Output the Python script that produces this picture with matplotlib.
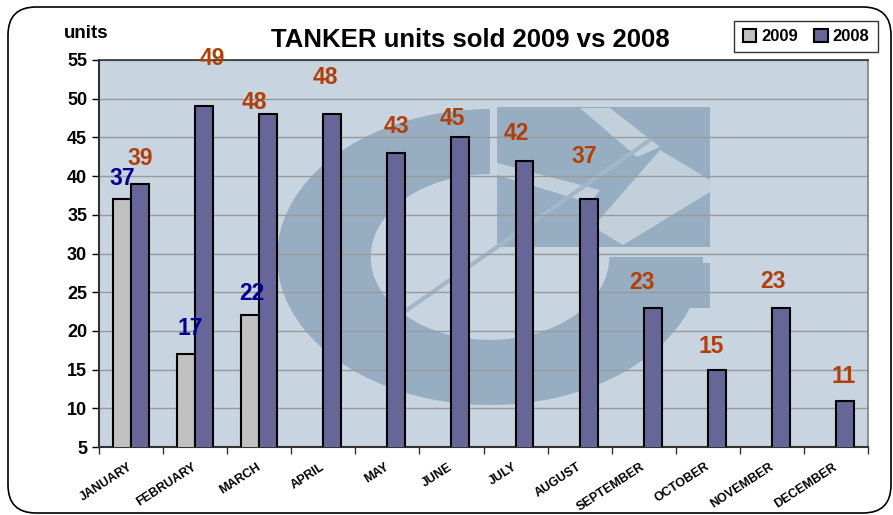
import matplotlib
matplotlib.use("Agg")
import matplotlib.pyplot as plt
import matplotlib.patches as patches
from matplotlib.transforms import Affine2D
import numpy as np

plt.rcParams['font.family'] = ['Liberation Sans', 'DejaVu Sans']

months = ['JANUARY', 'FEBRUARY', 'MARCH', 'APRIL', 'MAY', 'JUNE', 'JULY',
          'AUGUST', 'SEPTEMBER', 'OCTOBER', 'NOVEMBER', 'DECEMBER']
units_2009 = [37, 17, 22]
units_2008 = [39, 49, 48, 48, 43, 45, 42, 37, 23, 15, 23, 11]
# manual label nudges (pixels) as placed in the original chart
nudge_2009 = [(0, 21), (4, 26), (2, 22)]
nudge_2008 = [(0, 25), (8, 48), (-14, 12), (-7, 37), (0, 26), (-8, 19),
              (-8, 27), (-4, 43), (-11, 25), (-6, 23), (-8, 26), (-1, 24)]

W, H = 893, 515
fig = plt.figure(figsize=(W / 100, H / 100), dpi=100)
fig.patch.set_facecolor('white')

# rounded outer frame
frame = patches.FancyBboxPatch((0.08, 0.02), 8.83, 5.06,
                               boxstyle='round,pad=0,rounding_size=0.28',
                               transform=fig.dpi_scale_trans, facecolor='white',
                               edgecolor='black', linewidth=1.2, zorder=0)
fig.patches.append(frame)

rect = [99 / W, 1 - 447 / H, (868 - 99) / W, (447 - 60) / H]

# background axes with faded logo (pixel coordinates)
bg = fig.add_axes(rect, zorder=1)
bg.set_xlim(99, 868)
bg.set_ylim(447, 60)
bg.axis('off')
bg.add_patch(patches.Rectangle((99, 60), 769, 387, facecolor='#C8D4E0', edgecolor='none'))
logo = '#97AEC2'
light = '#C2D0DC'
ring = patches.Wedge((0, 0), 1.0, 90, 360, width=0.44, facecolor=logo, edgecolor='none',
                     transform=Affine2D().scale(213, -148).translate(490, 257) + bg.transData)
bg.add_patch(ring)
bg.add_patch(patches.Rectangle((497, 107), 213, 140, facecolor=logo, edgecolor='none'))
bg.add_patch(patches.Rectangle((612, 263), 98, 45, facecolor=logo, edgecolor='none'))
for poly in ([(580, 108), (610, 108), (660, 147), (637, 157)],
             [(660, 150), (710, 180), (710, 192), (623, 245), (593, 227)],
             [(497, 163), (497, 175), (590, 203), (600, 190)]):
    bg.add_patch(patches.Polygon(poly, closed=True, facecolor=light, edgecolor='none'))
bg.plot([407, 650], [310, 140], color='#A3B7C9', linewidth=3)

# main axes
ax = fig.add_axes(rect, zorder=2)
ax.patch.set_alpha(0)

x = np.arange(len(months))
bw = 0.28
x09 = x[:len(units_2009)] - bw / 2
x08 = x + bw / 2
bars09 = ax.bar(x09, units_2009, width=bw, color='#C0C0C0', edgecolor='black',
                linewidth=1.5, label='2009', zorder=3)
bars08 = ax.bar(x08, units_2008, width=bw, color='#666699', edgecolor='black',
                linewidth=1.5, label='2008', zorder=3)

for xi, v, (dx, dy) in zip(x09, units_2009, nudge_2009):
    ax.annotate(str(v), (xi, v), xytext=(dx, dy), textcoords='offset pixels',
                ha='center', va='center', fontsize=16.5, fontweight='bold',
                color='#000090', zorder=4, annotation_clip=False)
for xi, v, (dx, dy) in zip(x08, units_2008, nudge_2008):
    ax.annotate(str(v), (xi, v), xytext=(dx, dy), textcoords='offset pixels',
                ha='center', va='center', fontsize=16.5, fontweight='bold',
                color='#B0400A', zorder=4, annotation_clip=False)

ax.set_xlim(-0.5, len(months) - 0.5)
ax.set_ylim(5, 55)
ax.set_yticks(range(5, 56, 5))
ax.yaxis.grid(True, color='#9A9A9A', linewidth=1)
ax.set_axisbelow(True)
ax.tick_params(axis='y', labelsize=13, length=5, width=1, colors='black')
for lbl in ax.get_yticklabels():
    lbl.set_fontweight('bold')

ax.set_xticks(np.arange(len(months) + 1) - 0.5)
ax.set_xticklabels([])
ax.set_xticks(x - 0.05, minor=True)
ax.set_xticklabels(months, minor=True, rotation=33, ha='right', va='top',
                   rotation_mode='anchor', fontsize=9, fontweight='bold')
ax.tick_params(axis='x', which='major', length=5, width=1, color='#333333')
ax.tick_params(axis='x', which='minor', length=0, pad=10)

for side in ['left', 'bottom']:
    ax.spines[side].set_color('#333333')
    ax.spines[side].set_linewidth(1.5)
ax.spines['top'].set_color('#333333')
ax.spines['top'].set_linewidth(1.2)
ax.spines['right'].set_color('#808080')
ax.spines['right'].set_linewidth(1.2)

fig.text(470 / W, 1 - 40 / H, 'TANKER units sold 2009 vs 2008', ha='center', va='center',
         fontsize=18.5, fontweight='bold')
fig.text(86 / W, 1 - 33 / H, 'units', ha='center', va='center',
         fontsize=13.5, fontweight='bold')

leg = fig.legend(handles=[bars09, bars08], loc='center', bbox_to_anchor=(806 / W, 1 - 36.5 / H),
                 ncol=2, frameon=True, fancybox=False, edgecolor='black',
                 prop={'weight': 'bold', 'size': 12}, handlelength=0.8, handleheight=0.8,
                 handletextpad=0.3, columnspacing=1.0, borderpad=0.5)
leg.get_frame().set_linewidth(1)

fig.savefig('out.png', dpi=100, facecolor='white')
